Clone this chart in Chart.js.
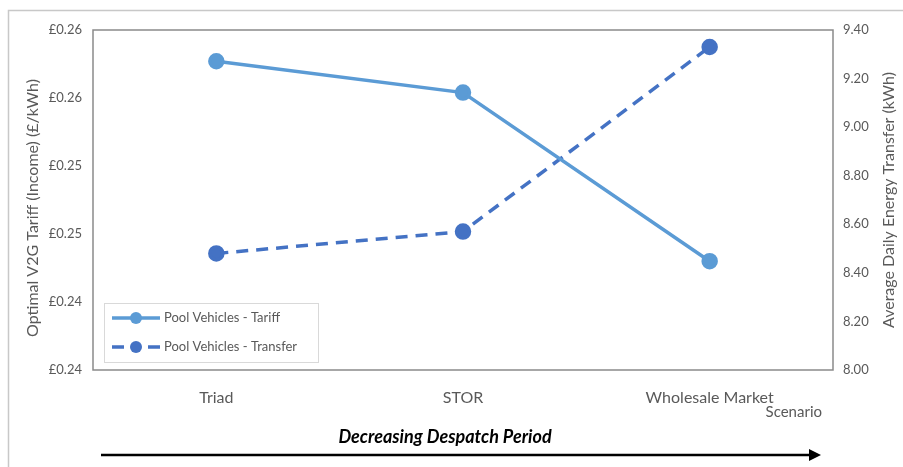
<!DOCTYPE html>
<html>
<head>
<meta charset="utf-8">
<script src="https://cdn.jsdelivr.net/npm/chart.js@4.4.1/dist/chart.umd.min.js"></script>
<style>
  body { margin: 0; background: #fff; }
  canvas { display: block; }
</style>
</head>
<body>
<canvas id="v2gChart" width="903" height="467"></canvas>
<script>
// Chart data
const scenarios = ['Triad', 'STOR', 'Wholesale Market'];
const tariffValues = [0.2607, 0.2584, 0.2460];
const transferValues = [8.48, 8.57, 9.33];
const tariffTicks = [0.238, 0.243, 0.248, 0.253, 0.258, 0.263];
const transferTicks = [8.0, 8.2, 8.4, 8.6, 8.8, 9.0, 9.2, 9.4];

const FONT = 'Lato, "DejaVu Sans", sans-serif';
const GREY = '#595959';
const TARIFF_COLOR = '#5B9BD5';
const TRANSFER_COLOR = '#4472C4';

// rotated axis title, reading bottom to top
function drawVerticalTitle(ctx, text, x, y) {
    ctx.save();
    ctx.translate(x, y);
    ctx.rotate(-Math.PI / 2);
    ctx.fillStyle = GREY;
    ctx.font = '16px ' + FONT;
    ctx.textAlign = 'center';
    ctx.textBaseline = 'middle';
    ctx.fillText(text, 0, 0);
    ctx.restore();
}

// extra drawing: outer frame, plot border, legend box, titles, arrow caption
const extras = {
    id: 'extras',
    beforeDraw(chart) {
        const ctx = chart.ctx;
        ctx.save();
        ctx.fillStyle = '#fff';
        ctx.fillRect(0, 0, chart.width, chart.height);
        ctx.strokeStyle = '#c8c8c8';
        ctx.lineWidth = 1.5;
        ctx.strokeRect(8.5, 10.5, 1000, 1000);
        ctx.restore();
    },
    beforeDatasetsDraw(chart) {
        const ctx = chart.ctx;
        const a = chart.chartArea;
        ctx.save();
        ctx.strokeStyle = '#8a8a8a';
        ctx.lineWidth = 1.5;
        ctx.strokeRect(a.left, a.top, a.right - a.left, a.bottom - a.top);
        ctx.restore();
    },
    afterDatasetsDraw(chart) {
        const ctx = chart.ctx;
        const a = chart.chartArea;
        ctx.save();

        drawVerticalTitle(ctx, 'Optimal V2G Tariff (Income) (£/kWh)', 33, 208);
        drawVerticalTitle(ctx, 'Average Daily Energy Transfer (kWh)', 889, 200);

        // legend box
        const lx = a.left + 11, ly = a.top + 273;
        ctx.fillStyle = '#fff';
        ctx.fillRect(lx, ly, 214, 59);
        ctx.strokeStyle = '#d9d9d9';
        ctx.lineWidth = 1;
        ctx.strokeRect(lx + 0.5, ly + 0.5, 214, 59);
        chart.data.datasets.forEach(function(ds, i) {
            const y = ly + 15 + i * 29;
            ctx.strokeStyle = ds.borderColor;
            ctx.lineWidth = 3.5;
            ctx.beginPath();
            if (ds.borderDash) {
                ctx.moveTo(lx + 8, y); ctx.lineTo(lx + 20, y);
                ctx.moveTo(lx + 44, y); ctx.lineTo(lx + 56, y);
            } else {
                ctx.moveTo(lx + 8, y); ctx.lineTo(lx + 56, y);
            }
            ctx.stroke();
            ctx.fillStyle = ds.borderColor;
            ctx.beginPath();
            ctx.arc(lx + 32, y, 6, 0, Math.PI * 2);
            ctx.fill();
            ctx.fillStyle = GREY;
            ctx.font = '13px ' + FONT;
            ctx.textBaseline = 'middle';
            ctx.textAlign = 'left';
            ctx.fillText(ds.label, lx + 60, y);
        });

        // axis caption under the categories
        ctx.fillStyle = GREY;
        ctx.font = '15px ' + FONT;
        ctx.textAlign = 'right';
        ctx.textBaseline = 'middle';
        ctx.fillText('Scenario', a.right - 11, 412);

        // arrow
        ctx.fillStyle = '#000';
        ctx.font = 'italic bold 18px ' + FONT;
        ctx.textAlign = 'center';
        ctx.fillText('Decreasing Despatch Period', 445, 437);
        ctx.strokeStyle = '#000';
        ctx.lineWidth = 2.5;
        ctx.beginPath();
        ctx.moveTo(101, 455);
        ctx.lineTo(812, 455);
        ctx.stroke();
        ctx.beginPath();
        ctx.moveTo(821, 455);
        ctx.lineTo(809, 449);
        ctx.lineTo(809, 461);
        ctx.closePath();
        ctx.fill();
        ctx.restore();
    }
};

const ctx = document.getElementById('v2gChart').getContext('2d');
const v2gChart = new Chart(ctx, {
    type: 'line',
    data: {
        labels: scenarios,
        datasets: [
            {
                label: 'Pool Vehicles - Tariff',
                data: tariffValues,
                yAxisID: 'yTariff',
                borderColor: TARIFF_COLOR,
                backgroundColor: TARIFF_COLOR,
                pointBackgroundColor: TARIFF_COLOR,
                pointBorderColor: TARIFF_COLOR,
                borderWidth: 3.5,
                pointRadius: 6.5,
                tension: 0
            },
            {
                label: 'Pool Vehicles - Transfer',
                data: transferValues,
                yAxisID: 'yTransfer',
                borderColor: TRANSFER_COLOR,
                backgroundColor: TRANSFER_COLOR,
                pointBackgroundColor: TRANSFER_COLOR,
                pointBorderColor: TRANSFER_COLOR,
                borderWidth: 3.5,
                borderDash: [12, 8],
                pointRadius: 6.5,
                tension: 0
            }
        ]
    },
    options: {
        responsive: false,
        animation: false,
        devicePixelRatio: 1,
        layout: { padding: { top: 30, left: 0, right: 0, bottom: 0 } },
        plugins: {
            legend: { display: false },
            tooltip: { enabled: false }
        },
        scales: {
            x: {
                offset: true,
                grid: { display: false, drawTicks: false },
                border: { display: false },
                ticks: {
                    padding: 18,
                    color: GREY,
                    font: { family: FONT, size: 16 }
                },
                afterFit: function(scale) { scale.height = 97; }
            },
            yTariff: {
                position: 'left',
                min: 0.238,
                max: 0.263,
                grid: { display: false, drawTicks: false },
                border: { display: false },
                afterBuildTicks: function(scale) {
                    scale.ticks = tariffTicks.map(v => ({ value: v }));
                },
                ticks: {
                    padding: 11,
                    color: GREY,
                    font: { family: FONT, size: 13 },
                    callback: function(value) {
                        return '£' + value.toFixed(2);
                    }
                },
                afterFit: function(scale) { scale.width = 93; }
            },
            yTransfer: {
                position: 'right',
                min: 8.0,
                max: 9.4,
                grid: { display: false, drawTicks: false },
                border: { display: false },
                afterBuildTicks: function(scale) {
                    scale.ticks = transferTicks.map(v => ({ value: v }));
                },
                ticks: {
                    padding: 10,
                    color: GREY,
                    font: { family: FONT, size: 13 },
                    callback: function(value) {
                        return value.toFixed(2);
                    }
                },
                afterFit: function(scale) { scale.width = 70; }
            }
        }
    },
    plugins: [extras]
});
</script>
</body>
</html>
